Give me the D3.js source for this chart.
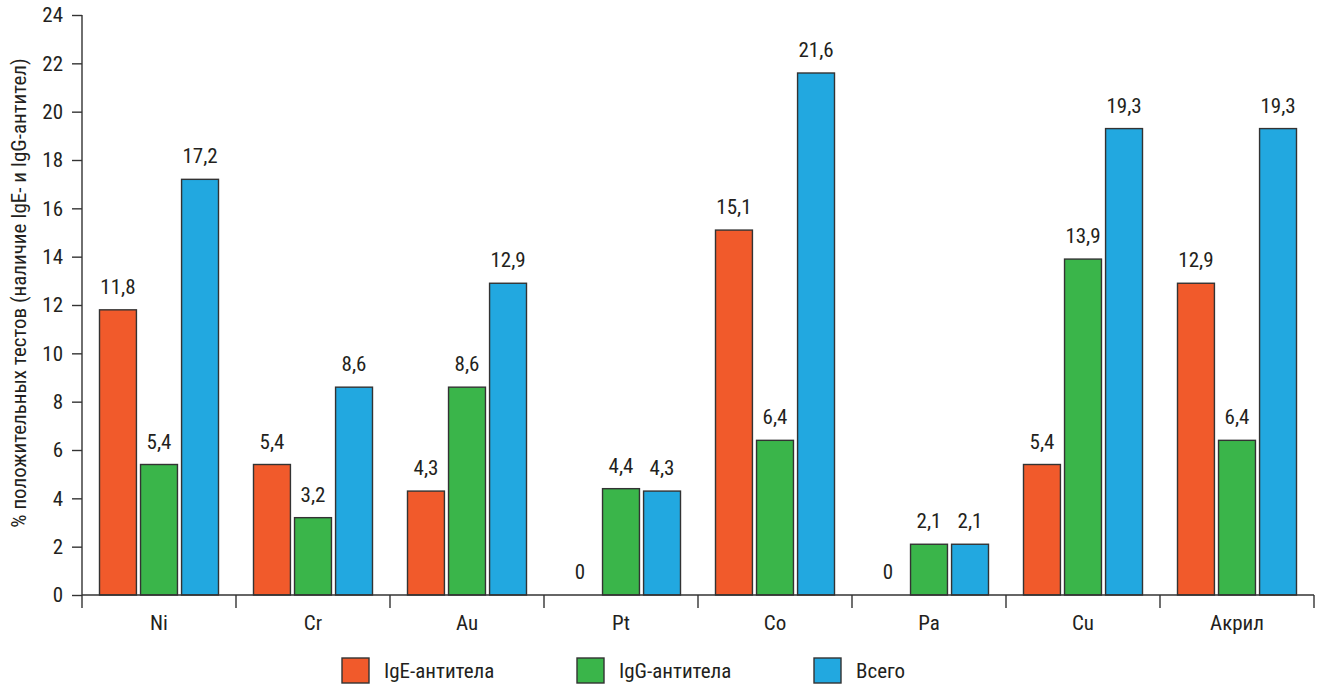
<!DOCTYPE html>
<html><head><meta charset="utf-8">
<script src="https://cdn.jsdelivr.net/npm/d3@7"></script>
<style>
html,body{margin:0;padding:0;background:#fff;}
</style></head>
<body>
<svg id="chart" width="1320" height="684"></svg>
<script>
const categories = ["Ni","Cr","Au","Pt","Co","Pa","Cu","Акрил"];
const seriesNames = ["IgE-антитела","IgG-антитела","Всего"];
const igE = [11.8, 5.4, 4.3, 0, 15.1, 0, 5.4, 12.9];
const igG = [5.4, 3.2, 8.6, 4.4, 6.4, 2.1, 13.9, 6.4];
const total = [17.2, 8.6, 12.9, 4.3, 21.6, 2.1, 19.3, 19.3];
const yTicks = [0,2,4,6,8,10,12,14,16,18,20,22,24];
const colors = ["#f15a2b","#3ab54a","#22a8e0"];
const yTitle = "% положительных тестов (наличие IgE- и IgG-антител)";

// pick an installed condensed font
function hasFont(f){
  const c = document.createElement("canvas").getContext("2d");
  const s = "abcdefghijklmnopqrstuvwxyzАБВабв0123456789";
  c.font = "72px monospace"; const w1 = c.measureText(s).width;
  c.font = `72px "${f}", monospace`; return c.measureText(s).width !== w1;
}
const fontList = ["Liberation Sans Narrow","Roboto Condensed","Arial Narrow","DejaVu Sans Condensed","Roboto"];
const fontName = fontList.find(hasFont) || "sans-serif";
const FF = `"${fontName}", sans-serif`;
const FS = 21;

const seriesData = [igE, igG, total];
const svg = d3.select("#chart");
const mLeft = 82, mRight = 1314, mTop = 15, mBottom = 595;

const x = d3.scaleBand().domain(categories).range([mLeft, mRight]).paddingInner(0).paddingOuter(0);
const xs = d3.scaleBand().domain(seriesNames).range([17.5, x.bandwidth() - 17.5]).paddingInner(0.1).paddingOuter(0);
const y = d3.scaleLinear().domain([0, 24]).range([mBottom, mTop]);

const fmt = v => String(v).replace(".", ",");

// bars
const groups = svg.append("g").selectAll("g").data(categories).join("g")
  .attr("transform", d => `translate(${x(d)},0)`);
groups.each(function(cat, i){
  const g = d3.select(this);
  seriesNames.forEach((s, j) => {
    const v = seriesData[j][i];
    g.append("rect")
      .attr("x", xs(s)).attr("y", y(v))
      .attr("width", xs.bandwidth()).attr("height", y(0) - y(v))
      .attr("fill", colors[j]).attr("stroke", "#333").attr("stroke-width", 1.4);
    g.append("text")
      .attr("x", xs(s) + xs.bandwidth()/2).attr("y", y(v) - 16)
      .attr("text-anchor", "middle")
      .attr("font-family", FF).attr("font-size", FS).attr("fill", "#231f20")
      .text(fmt(v));
  });
});

// y axis
const yAxis = d3.axisLeft(y).tickValues(yTicks).tickSize(10).tickPadding(9).tickFormat(d => d);
const ya = svg.append("g").attr("transform", `translate(${mLeft},0)`).call(yAxis);
ya.selectAll("text").attr("font-family", FF).attr("font-size", FS).attr("fill", "#231f20");
ya.selectAll("line, path").attr("stroke", "#333").attr("stroke-width", 1.4);
ya.select(".domain").attr("d", `M0,${mTop}V${mBottom}`);

// x axis
const xAxis = d3.axisBottom(x).tickSize(0).tickPadding(0);
const xa = svg.append("g").attr("transform", `translate(0,${mBottom})`).call(xAxis);
xa.selectAll("text").attr("font-family", FF).attr("font-size", FS).attr("fill", "#231f20")
  .attr("y", 35).attr("dy", null);
xa.select(".domain").attr("d", `M${mLeft},0H${mRight}`).attr("stroke", "#333").attr("stroke-width", 1.4);
const bounds = categories.map(c => x(c)).concat([x.range()[1]]);
xa.selectAll("line.bound").data(bounds).join("line").attr("class", "bound")
  .attr("x1", d => d).attr("x2", d => d).attr("y1", 0).attr("y2", 13)
  .attr("stroke", "#333").attr("stroke-width", 1.4);

// y title
svg.append("text")
  .attr("transform", `translate(26,293) rotate(-90)`)
  .attr("text-anchor", "middle")
  .attr("font-family", FF).attr("font-size", FS).attr("fill", "#231f20")
  .text(yTitle);

// legend
const legendX = [342, 577, 814];
const lg = svg.append("g").selectAll("g").data(seriesNames).join("g")
  .attr("transform", (d, i) => `translate(${legendX[i]},658)`);
lg.append("rect").attr("width", 27).attr("height", 25)
  .attr("fill", (d, i) => colors[i]).attr("stroke", "#333").attr("stroke-width", 1.4);
lg.append("text").attr("x", 42).attr("y", 20)
  .attr("font-family", FF).attr("font-size", FS).attr("fill", "#231f20")
  .text(d => d);
</script>
</body></html>
